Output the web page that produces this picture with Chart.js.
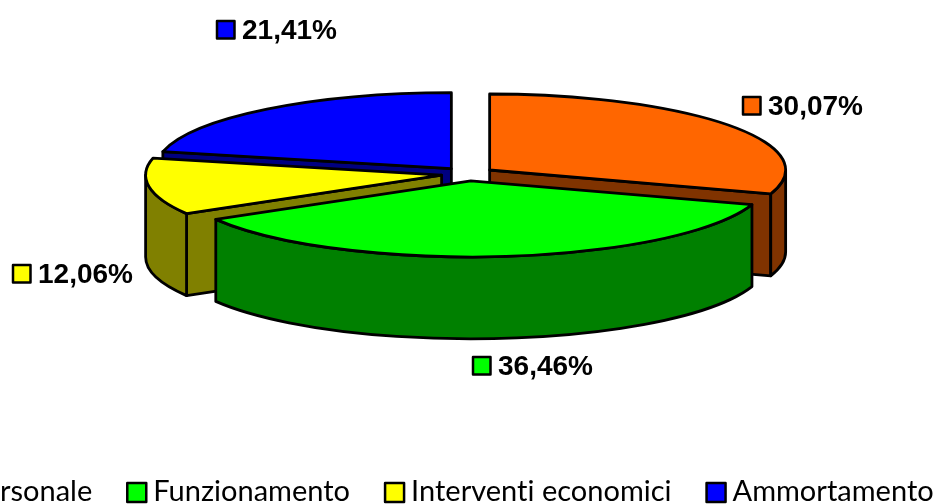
<!DOCTYPE html>
<html>
<head>
<meta charset="utf-8">
<script src="https://cdn.jsdelivr.net/npm/chart.js@4"></script>
<style>
  html, body { margin: 0; padding: 0; background: #fff; overflow: hidden; }
  canvas { display: block; }
</style>
</head>
<body>
<canvas id="myChart" width="940" height="504"></canvas>
<script>
var categories = ["Personale", "Funzionamento", "Interventi economici", "Ammortamento"];
var percentages = [30.07, 36.46, 12.06, 21.41];

var topColors = ["#FF6600", "#00FF00", "#FFFF00", "#0000FF"];
var wallColors = ["#803300", "#008000", "#808000", "#000080"];

// look of the fake 3d pie
var squash = 76 / 296;
var depth = 82;
var explode = 26.7;
var drawOrder = [3, 0, 2, 1]; // back to front

// where excel left the value labels (left of key box, middle of text)
var labelSpots = [[743, 106], [473, 366], [13, 274], [217, 30]];

function drawSlice(ctx, el, i) {
  var mid = (el.startAngle + el.endAngle) / 2;
  var r = el.outerRadius;
  var cx = el.x + Math.cos(mid) * explode;
  var cy = el.y + Math.sin(mid) * explode * squash;

  function px(a) { return cx + Math.cos(a) * r; }
  function py(a) { return cy + Math.sin(a) * r * squash; }

  function cutFace(a) {
    ctx.beginPath();
    ctx.moveTo(cx, cy);
    ctx.lineTo(px(a), py(a));
    ctx.lineTo(px(a), py(a) + depth);
    ctx.lineTo(cx, cy + depth);
    ctx.closePath();
    ctx.fill();
    ctx.stroke();
  }

  ctx.fillStyle = wallColors[i];

  // only the cut faces turned towards us
  if (Math.cos(el.startAngle) < -0.001) cutFace(el.startAngle);
  if (Math.cos(el.endAngle) > 0.001) cutFace(el.endAngle);

  // round wall, only the part facing us
  var a0 = Math.max(el.startAngle, 0);
  var a1 = Math.min(el.endAngle, Math.PI);
  if (a1 > a0) {
    ctx.beginPath();
    ctx.ellipse(cx, cy, r, r * squash, 0, a0, a1);
    ctx.ellipse(cx, cy + depth, r, r * squash, 0, a1, a0, true);
    ctx.closePath();
    ctx.fill();
    ctx.stroke();
  }

  // top face is the chart.js arc, squashed
  ctx.save();
  ctx.translate(el.x, el.y);
  ctx.scale(1, squash);
  ctx.translate(Math.cos(mid) * explode, Math.sin(mid) * explode);
  ctx.translate(-el.x, -el.y);
  el.draw(ctx);
  ctx.restore();

  ctx.beginPath();
  ctx.moveTo(cx, cy);
  ctx.ellipse(cx, cy, r, r * squash, 0, el.startAngle, el.endAngle);
  ctx.closePath();
  ctx.stroke();
}

function keyBox(ctx, x, y, size, color) {
  ctx.fillStyle = color;
  ctx.fillRect(x, y, size, size);
  ctx.strokeRect(x, y, size, size);
}

var pie3d = {
  id: "pie3d",
  beforeDatasetsDraw: function(chart) {
    var ctx = chart.ctx;
    var arcs = chart.getDatasetMeta(0).data;
    ctx.save();
    ctx.strokeStyle = "#000";
    ctx.lineWidth = 2.8;
    ctx.lineJoin = "round";
    drawOrder.forEach(function(i) {
      drawSlice(ctx, arcs[i], i);
    });
    ctx.restore();
    return false;
  },
  afterDraw: function(chart) {
    var ctx = chart.ctx;
    ctx.save();
    ctx.strokeStyle = "#000";
    ctx.lineWidth = 2.5;
    ctx.lineJoin = "round";
    ctx.textBaseline = "middle";
    ctx.textAlign = "left";

    // value labels
    ctx.font = "bold 28px 'Liberation Sans'";
    percentages.forEach(function(v, i) {
      var spot = labelSpots[i];
      keyBox(ctx, spot[0], spot[1] - 9, 17.5, topColors[i]);
      ctx.fillStyle = "#000";
      ctx.fillText(v.toFixed(2).replace(".", ",") + "%", spot[0] + 25, spot[1] + 1);
    });

    // legend, runs off the left edge like the original
    ctx.font = "29px Lato";
    ctx.letterSpacing = "0.01px"; // stops the ti ligature
    var x = -58;
    categories.forEach(function(name, i) {
      keyBox(ctx, x, 483, 19, topColors[i]);
      ctx.fillStyle = "#000";
      ctx.fillText(name, x + 26, 492);
      x += 26 + ctx.measureText(name).width + 35;
    });
    ctx.restore();
  }
};

new Chart(document.getElementById("myChart"), {
  type: "pie",
  data: {
    labels: categories,
    datasets: [{
      data: percentages,
      backgroundColor: topColors,
      borderWidth: 0
    }]
  },
  options: {
    responsive: false,
    animation: false,
    devicePixelRatio: 1,
    radius: 296,
    layout: { padding: { right: 4, bottom: 156 } },
    plugins: {
      legend: { display: false },
      tooltip: { enabled: false }
    }
  },
  plugins: [pie3d]
});
</script>
</body>
</html>
